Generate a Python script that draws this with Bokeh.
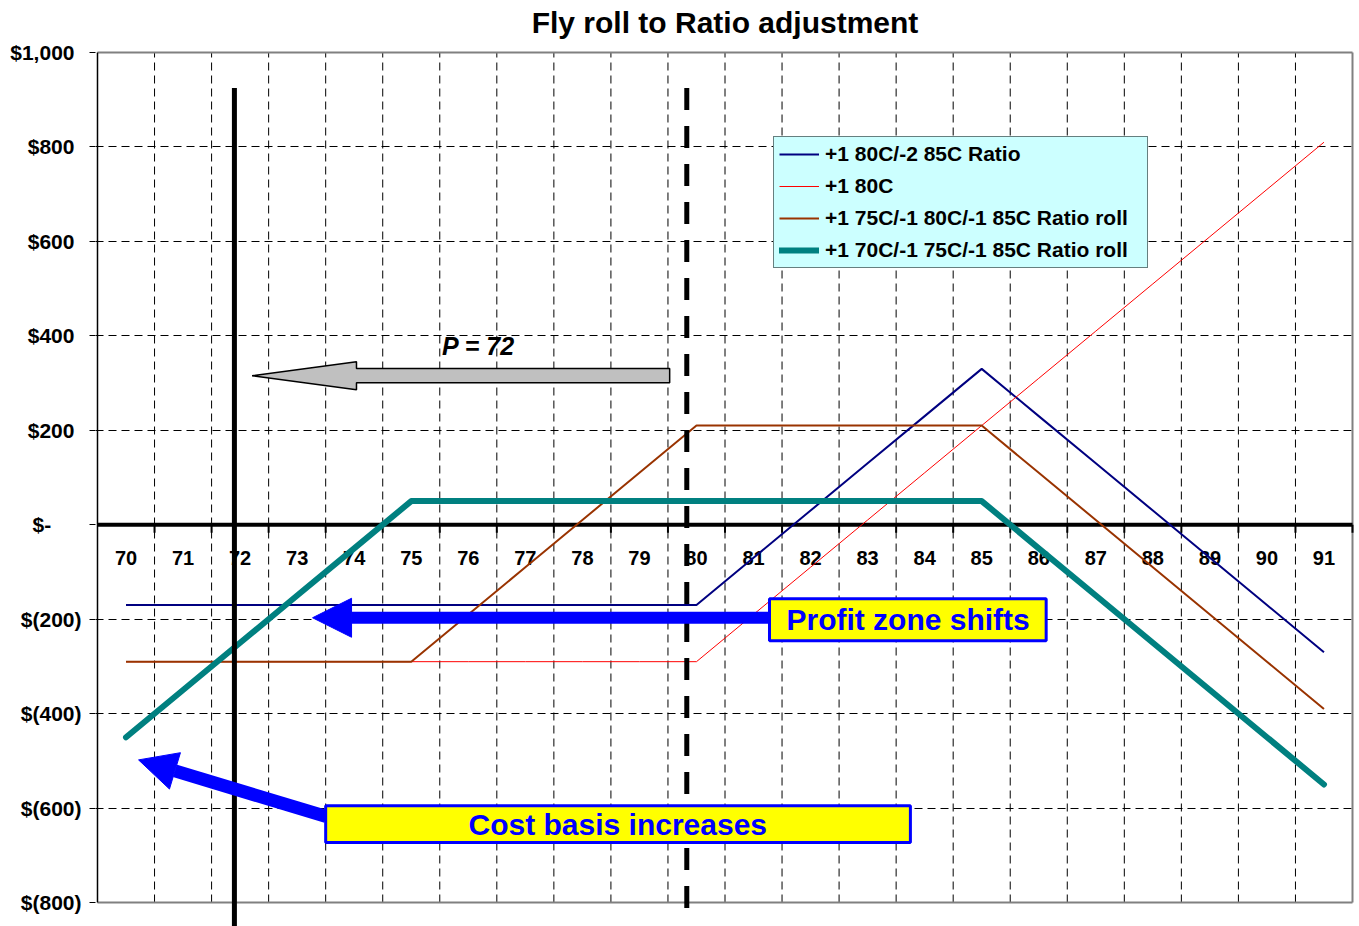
from bokeh.plotting import figure
from bokeh.models import (Range1d, FixedTicker, Arrow, NormalHead, BoxAnnotation,
                          Label, Legend, LegendItem)
from bokeh.core.properties import value
from bokeh.embed import file_html
from bokeh.resources import INLINE

# ---- expiry P/L by strike ----
strikes = [70, 71, 72, 73, 74, 75, 76, 77, 78, 79, 80,
           81, 82, 83, 84, 85, 86, 87, 88, 89, 90, 91]
ratio_80_85 = [-170, -170, -170, -170, -170, -170, -170, -170, -170, -170, -170,
               -70, 30, 130, 230, 330, 230, 130, 30, -70, -170, -270]
long_80_call = [-290, -290, -290, -290, -290, -290, -290, -290, -290, -290, -290,
                -190, -90, 10, 110, 210, 310, 410, 510, 610, 710, 810]
roll_75_80_85 = [-290, -290, -290, -290, -290, -290, -190, -90, 10, 110, 210,
                 210, 210, 210, 210, 210, 110, 10, -90, -190, -290, -390]
roll_70_75_85 = [-450, -350, -250, -150, -50, 50, 50, 50, 50, 50, 50,
                 50, 50, 50, 50, 50, -50, -150, -250, -350, -450, -550]

series_names = ["+1 80C/-2 85C Ratio", "+1 80C",
                "+1 75C/-1 80C/-1 85C Ratio roll", "+1 70C/-1 75C/-1 85C Ratio roll"]

y_ticks = [1000, 800, 600, 400, 200, 0, -200, -400, -600, -800]
y_tick_labels = ["$1,000\u2004", "$800\u2004", "$600\u2004", "$400\u2004", "$200\u2004",
                 "$-\u2007\u2007\u2004", "$(200)", "$(400)", "$(600)", "$(800)"]
grid_values = [800, 600, 400, 200, -200, -400, -600]

title_text = "Fly roll to Ratio adjustment"
FONT = "Liberation Sans"

X_MIN, X_MAX = 69.5, 91.5      # category band edges
Y_MIN, Y_MAX = -800, 1000      # value axis limits
X_PAD = 0.035                  # room for the border strokes
Y_BELOW = -850.8               # the spot-price marker runs past the value axis
Y_ABOVE = 1110.1               # headroom holding the title

p = figure(width=1359, height=926,
           x_range=Range1d(X_MIN - X_PAD, X_MAX + X_PAD),
           y_range=Range1d(Y_BELOW, Y_ABOVE),
           output_backend="svg", toolbar_location=None,
           min_border_left=95, min_border_right=5, min_border_top=0, min_border_bottom=0,
           background_fill_color="white", border_fill_color="white")
p.outline_line_color = None
p.xaxis.visible = False
p.xgrid.visible = False

p.yaxis.ticker = FixedTicker(ticks=y_ticks)
p.yaxis.major_label_overrides = dict(zip(y_ticks, y_tick_labels))
p.yaxis.minor_tick_line_color = None
p.yaxis.major_tick_in = 0
p.yaxis.major_tick_out = 6
p.yaxis.major_tick_line_color = "black"
p.yaxis.axis_line_color = None
p.yaxis.major_label_standoff = 8
p.yaxis.major_label_text_font = FONT
p.yaxis.major_label_text_font_size = "21px"
p.yaxis.major_label_text_font_style = "bold"
p.yaxis.major_label_text_color = "black"

p.ygrid.ticker = FixedTicker(ticks=grid_values)
p.ygrid.grid_line_color = "black"
p.ygrid.grid_line_dash = "8 5"
p.ygrid.grid_line_width = 1

# vertical grid between categories, bounded by the value axis limits
boundaries = [s + 0.5 for s in strikes[:-1]]
p.segment(x0=boundaries, y0=[Y_MIN] * len(boundaries), x1=boundaries,
          y1=[Y_MAX] * len(boundaries), line_color="black", line_width=1, line_dash="8 5")

# plot-area border and value axis line
p.segment(x0=[X_MIN, X_MAX, X_MIN], y0=[Y_MAX, Y_MIN, Y_MIN],
          x1=[X_MAX, X_MAX, X_MAX], y1=[Y_MAX, Y_MAX, Y_MIN],
          line_color="#808080", line_width=2)
p.segment(x0=[X_MIN], y0=[Y_MIN], x1=[X_MIN], y1=[Y_MAX], line_color="black", line_width=1.5)

# zero line with its category ticks and labels
p.segment(x0=[X_MIN], y0=[0], x1=[X_MAX], y1=[0], line_color="black", line_width=4)
tick_x = boundaries + [X_MAX]
p.segment(x0=tick_x, y0=[0] * len(tick_x), x1=tick_x, y1=[-17] * len(tick_x),
          line_color="black", line_width=2)
p.text(x=strikes, y=[-70] * len(strikes), text=[str(s) for s in strikes],
       text_font=value(FONT), text_font_size="20px", text_font_style="bold",
       text_align="center", text_baseline="middle", text_color="black")

# P/L lines
r1 = p.line(strikes, ratio_80_85, line_color="#000080", line_width=2)
r2 = p.line(strikes, long_80_call, line_color="#FF0000", line_width=1)
r3 = p.line(strikes, roll_75_80_85, line_color="#993300", line_width=2)
r4 = p.line(strikes, roll_70_75_85, line_color="#008080", line_width=6,
            line_join="round", line_cap="round")

# chart title, centred over the plot area
p.add_layout(Label(x=(X_MIN + X_MAX) / 2, y=1063, text=title_text, text_font=FONT,
                   text_font_size="30px", text_font_style="bold", text_color="black",
                   text_align="center", text_baseline="middle"))

# price markers
p.add_layout(Arrow(end=None, x_start=71.9, y_start=925, x_end=71.9, y_end=Y_BELOW,
                   line_color="black", line_width=5))
p.add_layout(Arrow(end=None, x_start=79.83, y_start=925, x_end=79.83, y_end=-815,
                   line_color="black", line_width=5, line_dash="22 16"))

# grey move arrow with its caption
p.patch([72.21, 74.04, 74.04, 79.53, 79.53, 74.04, 74.04],
        [315.5, 345, 331, 331, 300.7, 300.7, 286],
        fill_color="#C0C0C0", line_color="black", line_width=1.5)
p.add_layout(Label(x=76.18, y=379, text="P = 72", text_font=FONT,
                   text_font_size="25px", text_font_style="bold italic",
                   text_align="center", text_baseline="middle", text_color="black"))

# call-out arrows
p.add_layout(Arrow(end=NormalHead(size=39, fill_color="#0000FF", line_color="#0000FF",
                                  line_width=1),
                   x_start=81.28, y_start=-197, x_end=73.27, y_end=-197,
                   line_color="#0000FF", line_width=12))
p.add_layout(Arrow(end=NormalHead(size=38, fill_color="#0000FF", line_color="#0000FF",
                                  line_width=1),
                   x_start=73.51, y_start=-618, x_end=70.22, y_end=-498,
                   line_color="#0000FF", line_width=13))

# call-out boxes
p.add_layout(BoxAnnotation(left=81.28, right=86.13, top=-156.7, bottom=-245.7,
                           fill_color="#FFFF00", fill_alpha=1,
                           line_color="#0000FF", line_width=3, line_alpha=1))
p.add_layout(BoxAnnotation(left=73.5, right=83.75, top=-595, bottom=-673,
                           fill_color="#FFFF00", fill_alpha=1,
                           line_color="#0000FF", line_width=3, line_alpha=1))
p.add_layout(Label(x=83.71, y=-201, text="Profit zone shifts", text_font=FONT,
                   text_font_size="30px", text_font_style="bold", text_color="#0000FF",
                   text_align="center", text_baseline="middle"))
p.add_layout(Label(x=78.62, y=-635, text="Cost basis increases", text_font=FONT,
                   text_font_size="30px", text_font_style="bold", text_color="#0000FF",
                   text_align="center", text_baseline="middle"))

# legend box: 678 px right of the frame's left edge, bottom 658 px above frame bottom
legend = Legend(items=[LegendItem(label=n, renderers=[r]) for n, r in
                       zip(series_names, [r1, r2, r3, r4])],
                location=(678, 658), orientation="vertical",
                background_fill_color="#CCFFFF", background_fill_alpha=1,
                border_line_color="black", border_line_width=1,
                padding=5, spacing=8, margin=0,
                glyph_width=40, glyph_height=20, label_height=20, label_width=317,
                label_standoff=6, label_text_font=FONT, label_text_font_size="21px",
                label_text_font_style="bold", label_text_color="black")
p.add_layout(legend)

with open("out.html", "w") as f:
    f.write(file_html(p, INLINE))
